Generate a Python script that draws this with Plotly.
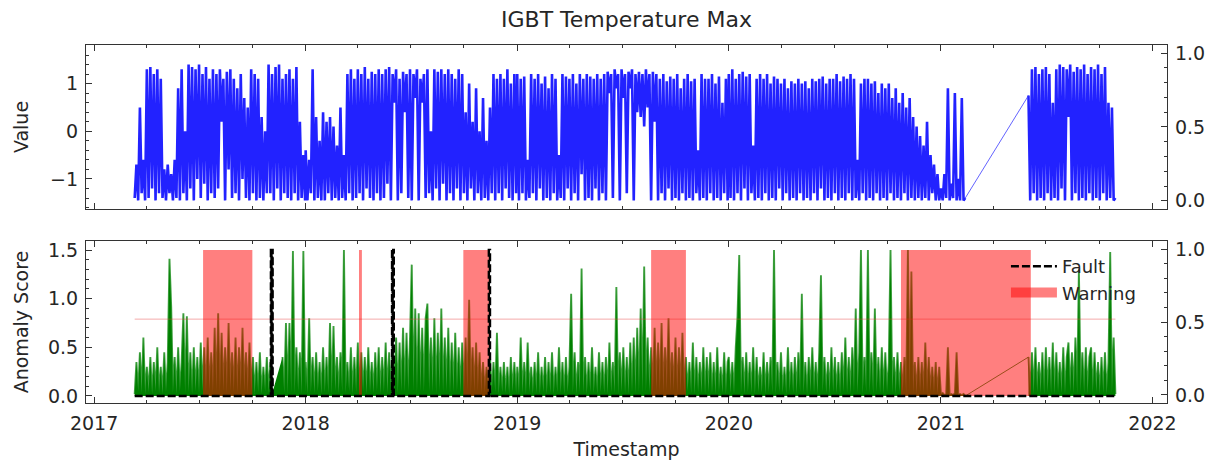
from typing import List, Tuple

import pandas as pd
from plotly.graph_objs import Figure, Scatter
from plotly.subplots import make_subplots

# readings sampled every 3 days; each stretch starts at its own date
segment_starts = ['2017-03-12', '2018-01-01', '2019-01-01', '2020-01-01', '2021-01-01', '2021-06-01']

value_2017 = [-1.4, -0.7, -1.45, 0.5, -1.3, -0.6, -1.45,
              1.3, -1.4, 1.35, -1.2, 1.2, -1.45, 1.3, -1.3, 1.1, -1.4,
              -0.8, -1.45, -0.7, -1.3, -0.9, -1.45, -0.6, -1.4, 0.9, -1.45,
              1.3, -1.3, 0.0, -1.45, 1.4, -1.2, 1.35, -1.45, 1.3, -1.0,
              1.4, -1.4, 1.2, -1.1, 1.35, -1.45, 1.1, -1.3, 1.3, -1.4,
              1.2, -1.2, 1.3, 0.2, 1.1, -1.45, 1.25, -0.8, 1.3, -1.4,
              1.1, -1.3, 0.9, -1.45, 1.2, -1.0, 0.7, -1.4, 0.5, -1.45,
              1.3, -1.3, 1.2, -1.45, 1.1, -1.4, 0.3, -1.45, 0.0, -1.3,
              1.4, -1.3, 1.2, -1.45, 1.35, -1.2, 1.4, -1.45, 1.1, -1.3,
              1.2, -1.4, 1.3, -1.45, 1.1, -1.3, 1.35, -1.45, 0.2, -1.4, -0.5, -1.45]
value_2018 = [-0.4, -1.45, -0.6, -1.3, 1.3, -1.45, 0.3, -1.4, -0.2, -1.45,
              0.4, -1.45, 0.2, -1.3, 0.3, -1.45, 0.1, -1.4, -0.3, -1.45,
              0.5, -1.4, -0.5, -1.45, 1.2, -1.3, 1.3, -1.45, 1.1, -1.4,
              1.3, -1.3, 1.2, -1.45, 1.35, -1.2, 1.1, -1.4, 1.25, -1.45,
              1.2, -1.3, 1.3, -1.45, 1.2, -1.4, 1.3, -1.1, 1.35, -1.45,
              1.2, 0.6, 1.3, -1.45, 1.1, -1.3, 1.25, 0.4, 1.2, -1.4,
              1.3, -1.45, 1.2, 0.7, 1.3, -1.45, 1.1, 0.6, 1.2, -1.4,
              1.3, -1.3, 0.0, -1.45, 1.3, -1.2, 1.25, -1.45, 1.3, -1.1,
              1.2, -1.45, 1.3, -1.3, 1.2, -1.45, 1.1, -1.2, 1.3, -1.45,
              1.2, -1.3, 0.4, -1.45, 1.0, -1.2, 0.2, -1.45, 0.9, -1.3,
              0.0, -1.45, 0.7, -1.4, -0.2, -1.45, 0.5, -1.3, 1.2, -1.45,
              1.1, -1.3, 1.2, -1.45, 1.1, -1.2, 1.3, -1.4, 1.0, -1.45, 1.2, -1.3]
value_2019 = [1.2, -1.45, 1.1, -1.3, 1.15, -1.45, -0.6, -1.4, 1.2, -1.3,
              1.1, -1.45, 1.2, -1.2, 1.0, -1.45, 1.15, -1.4, 0.9, -1.45,
              1.2, -1.3, 1.1, -1.45, -0.5, -1.4, 1.2, -1.45, 1.15, -1.2,
              1.1, -1.45, 1.2, -1.3, 1.0, -1.45, 1.2, -0.9, 1.1, -1.45,
              1.2, -1.4, 1.15, -1.45, 1.1, -1.2, 1.2, -1.45, 1.1, -1.3,
              1.2, -1.45, 1.25, 0.8, 1.2, -1.4, 1.3, 0.9, 1.2, -1.45,
              1.3, 0.7, 1.2, -1.3, 1.25, 0.9, 1.3, -1.45, 1.2, 0.4,
              1.25, 0.3, 1.2, 0.1, 1.3, 0.5, 1.2, -1.45, 1.25, 0.2,
              1.2, -1.45, 1.1, -1.3, 1.2, -1.45, 1.05, -1.2, 1.15, -1.45,
              1.1, -1.4, 1.2, -1.45, 0.9, -1.3, 1.1, -1.45, 1.2, -1.4,
              1.05, -1.45, 1.1, -1.3, -0.4, -1.45, 1.2, -1.4, 1.1, -1.45,
              1.1, -1.3, 1.2, -1.45, 1.0, -1.4, 1.15, -1.45, 0.6, -1.3, 1.1, -1.45]
value_2020 = [1.2, -1.4, 1.3, -1.45, 1.1, -1.3, 1.2, -1.45, 1.25, -1.2,
              1.15, -1.45, 1.2, -1.3, -0.3, -1.45, 1.1, -1.4, 1.2, -1.45,
              1.1, -1.3, 1.2, -1.45, 1.0, -1.4, 1.15, -1.45, 1.1, -1.2,
              1.0, -1.45, 1.1, -1.3, 0.9, -1.45, 1.05, -1.4, 1.0, -1.45,
              1.1, -1.3, 1.0, -1.45, 1.05, -1.4, 0.9, -1.45, 1.1, -1.3,
              1.05, -1.45, 1.1, -1.2, 1.15, -1.45, 1.0, -1.4, 1.1, -1.45,
              1.1, -1.3, 1.2, -1.45, 1.05, -1.4, 1.15, -1.45, 1.1, -1.3,
              1.2, -1.45, 1.1, -1.4, -0.6, -1.45, 1.0, -1.3, 1.1, -1.45,
              1.1, -1.4, 1.0, -1.45, 1.05, -1.3, 0.8, -1.45, 1.0, -1.4,
              0.9, -1.45, 1.0, -1.3, 0.7, -1.45, 0.9, -1.4, 0.6, -1.45,
              0.8, -1.3, 0.5, -1.45, 0.7, -1.4, 0.3, -1.45, 0.1, -1.4,
              -0.1, -1.45, -0.3, -1.4, 0.2, -1.45, -0.5, -1.3, -0.7, -1.45, -0.9, -1.45]
value_2021_early = [-1.2, -1.45, -0.9, -1.4, 0.9, -1.45, -1.1, -1.4, 0.8, -1.45,
                    -1.0, -1.45, 0.7, -1.45, -1.4]
value_2021_late = [0.75, -1.45, 1.3, -1.3, 1.35, -1.45, 1.2, -1.4, 1.3, -1.45,
                   1.35, -1.3, 1.2, -1.45, 0.6, -1.4, 1.3, -1.45, 1.4, -1.2,
                   1.35, -1.45, 1.3, 0.3, 1.4, -1.45, 1.25, -1.3, 1.35, -1.45,
                   1.3, -1.4, 1.4, -1.45, 1.2, -1.3, 1.35, -1.45, 1.3, -1.4,
                   1.4, -1.45, 1.2, -1.3, 1.35, -1.45, 0.6, -1.4, 0.5, -1.45, -1.4]

score_2017 = [0.02, 0.35, 0.05, 0.45, 0.03, 0.6, 0.02, 0.3, 0.04, 0.4,
              0.02, 0.35, 0.05, 0.5, 0.03, 0.3, 0.02, 0.45, 0.04, 0.35,
              1.41, 0.92, 0.03, 0.4, 0.02, 0.5, 0.05, 0.35, 0.85, 0.03,
              0.82, 0.04, 0.45, 0.02, 0.5, 0.05, 0.4, 0.03, 0.55, 0.05,
              0.5, 0.04, 0.6, 0.05, 0.45, 0.03, 0.7, 0.05, 0.85, 0.04,
              0.65, 0.05, 0.5, 0.03, 0.75, 0.05, 0.45, 0.04, 0.6, 0.03,
              0.5, 0.05, 0.7, 0.04, 0.45, 0.03, 0.55, 0.05, 0.4, 0.02,
              0.35, 0.04, 0.45, 0.02, 0.3, 0.05, 0.4, 0.03, 0.35, 0.02,
              None, None, None, None, None, 0.4, 0.03, 0.75, 0.02, 0.75,
              0.04, 1.49, 0.03, 0.5, 0.05, 0.45, 0.02, 1.49, 0.04]
score_2018 = [0.35, 0.02, 0.8, 0.04, 0.4, 0.03, 0.45, 0.05, 0.35, 0.02,
              0.5, 0.04, 0.4, 0.03, 0.75, 0.02, 0.72, 0.05, 0.4, 0.03,
              0.45, 0.04, 1.5, 0.03, 0.35, 0.05, 0.5, 0.02, 0.4, 0.04,
              0.55, 0.03, 0.45, 0.05, 0.4, 0.02, 0.5, 0.04, 0.35, 0.03,
              0.45, 0.05, 0.5, 0.02, 0.4, 0.04, 0.55, 0.03, 0.45, 0.05,
              0.5, 0.04, 0.6, 0.03, 0.55, 0.05, 0.7, 0.04, 0.65, 0.05,
              0.6, 1.35, 0.05, 0.9, 0.03, 0.85, 0.05, 0.7, 0.04, 0.8,
              0.95, 0.05, 0.6, 0.04, 0.8, 0.03, 0.65, 0.05, 0.9, 0.04,
              0.6, 0.05, 0.7, 0.03, 0.55, 0.04, 0.65, 0.05, 0.5, 0.03,
              0.55, 0.04, 0.6, 0.05, 0.99, 0.03, 0.5, 0.04, 0.55, 0.05,
              0.45, 0.03, 0.35, 0.04, 0.3, 0.02, 0.4, 0.03, 0.35, 0.04,
              0.65, 0.02, 0.3, 0.04, 0.35, 0.03, 0.3, 0.02, 0.4, 0.04, 0.35, 0.03]
score_2019 = [0.3, 0.02, 0.6, 0.03, 0.35, 0.02, 0.55, 0.04, 0.3, 0.02,
              0.35, 0.03, 0.45, 0.02, 0.3, 0.04, 0.4, 0.02, 0.35, 0.03,
              0.45, 0.02, 0.3, 0.04, 0.5, 0.03, 0.35, 0.02, 0.4, 0.04,
              0.3, 1.05, 0.03, 0.45, 0.02, 0.35, 0.04, 1.31, 0.03, 0.4,
              0.02, 0.35, 0.04, 0.5, 0.03, 0.3, 0.02, 0.45, 0.04, 0.35,
              0.03, 0.4, 0.02, 0.55, 0.04, 0.35, 0.03, 1.12, 0.02, 0.45,
              0.04, 0.5, 0.03, 0.4, 0.02, 0.55, 0.04, 0.6, 0.03, 0.7,
              0.04, 0.9, 0.03, 1.33, 0.05, 0.6, 0.04, 0.5, 0.03, 0.7,
              0.05, 0.55, 0.04, 0.75, 0.03, 0.5, 0.05, 0.8, 0.04, 0.45,
              0.05, 0.6, 0.03, 0.5, 0.04, 0.65, 0.03, 0.4, 0.05, 0.35,
              0.03, 0.55, 0.02, 0.4, 0.04, 0.35, 0.03, 0.5, 0.02, 0.4,
              0.04, 0.45, 0.03, 0.35, 0.02, 0.5, 0.04, 0.3, 0.03, 0.45, 0.02, 0.35]
score_2020 = [0.4, 0.03, 0.35, 0.02, 0.5, 0.82, 1.45, 0.03, 0.4, 0.02,
              0.45, 0.04, 0.35, 0.03, 0.5, 0.02, 0.4, 0.04, 0.3, 0.03,
              0.45, 0.02, 0.35, 0.04, 0.4, 0.03, 1.5, 0.02, 0.35, 0.04,
              0.45, 0.03, 0.3, 0.02, 0.5, 0.04, 0.35, 0.03, 0.4, 0.02,
              0.45, 0.04, 1.05, 0.03, 0.35, 0.02, 0.4, 0.04, 0.5, 0.03,
              0.35, 0.02, 0.45, 1.24, 0.04, 0.4, 0.03, 0.35, 0.02, 0.5,
              0.04, 0.4, 0.03, 0.35, 0.02, 0.45, 0.04, 0.6, 0.03, 0.4,
              0.02, 0.5, 0.04, 0.9, 0.03, 0.45, 1.5, 0.02, 0.4, 0.04,
              1.5, 0.03, 0.45, 0.02, 0.9, 0.04, 0.4, 0.03, 0.5, 0.02,
              0.45, 0.04, 0.35, 1.5, 0.03, 0.4, 0.02, 0.45, 0.04, 0.35,
              0.03, 0.4, 0.02, 1.5, 0.04, 1.28, 0.03, 0.35, 0.02, 0.4,
              0.04, 0.35, 0.03, 0.55, 0.02, 0.4, 0.04, 0.3, 0.03, 0.35, 0.02, 0.3]
score_2021_early = [0.02, 0.03, 0.01, 0.02, 0.5, 0.01, 0.02, 0.01, 0.03, 0.45,
                    0.01, 0.02, 0.01, 0.02, 0.0]
score_2021_late = [0.4, 0.03, 0.45, 0.02, 0.5, 0.04, 0.35, 0.03, 0.45, 0.02,
                   0.5, 0.04, 0.4, 0.03, 0.55, 0.02, 0.45, 0.04, 0.35, 0.03,
                   0.5, 0.02, 0.4, 0.55, 0.04, 0.45, 0.03, 0.6, 0.02, 1.3,
                   0.04, 0.45, 0.03, 0.5, 0.02, 0.4, 0.5, 0.03, 0.45, 0.04,
                   0.35, 0.02, 0.4, 0.03, 0.45, 0.02, 0.35, 1.48, 0.03, 0.6, 0.02]

# fault flag: flickers on and off during the first two events
fault_dates = ['2017-03-12',
               '2017-11-02', '2017-11-02', '2017-11-03', '2017-11-03', '2017-11-04', '2017-11-04',
               '2017-11-05', '2017-11-05',
               '2018-05-30', '2018-05-30', '2018-05-31', '2018-05-31', '2018-06-01', '2018-06-01',
               '2018-06-02', '2018-06-02',
               '2018-11-13', '2018-11-13', '2018-11-15', '2018-11-15', '2021-10-31']
fault_values = [0,
                0, 1.5, 1.5, 0, 0, 1.5, 1.5, 0,
                0, 1.5, 1.5, 0, 0, 1.5, 1.5, 0,
                0, 1.5, 1.5, 0, 0]

warning_starts = ['2017-07-08', '2018-04-03', '2018-09-30', '2019-08-20', '2020-10-24']
warning_ends = ['2017-10-01', '2018-04-08', '2018-11-14', '2019-10-19', '2021-06-05']
warning_top = 1.5
threshold = 0.79

FONT = 'DejaVu Sans'
INK = '#262626'
WARN_RED = 'rgba(255,0,0,0.5)'


def _stretches(chunks: List[list]) -> Tuple[pd.DataFrame, pd.DataFrame]:
    # everything before the 2021 outage, and everything after it
    frames = [pd.DataFrame({'Timestamp': pd.date_range(s, periods=len(c), freq='3D'), 'y': c})
              for s, c in zip(segment_starts, chunks)]
    return pd.concat(frames[:-1], ignore_index=True), frames[-1]


def _span_outline(starts: List[str], ends: List[str], top: float) -> Tuple[list, list]:
    xs, ys = [], []
    for s, e in zip(starts, ends):
        xs += [s, s, e, e, s, None]
        ys += [0, top, top, 0, 0, None]
    return xs, ys


def _add_series(fig: Figure, chunks: List[list], row: int, style: dict, bridge_color: str):
    before, after = _stretches(chunks)
    for part in (before, after):
        fig.add_trace(Scatter(x=part['Timestamp'], y=part['y'], mode='lines', showlegend=False, **style),
                      row=row, col=1)
    # the straight join across the outage
    fig.add_trace(Scatter(x=[before['Timestamp'].iloc[-1], after['Timestamp'].iloc[0]],
                          y=[before['y'].iloc[-1], after['y'].iloc[0]], mode='lines', showlegend=False,
                          line=dict(color=bridge_color, width=1)), row=row, col=1)
    return before['Timestamp'].iloc[0], after['Timestamp'].iloc[-1]


def _style_axes(fig: Figure):
    tick = dict(showline=True, linecolor='#333', linewidth=1.2, ticks='inside', ticklen=6,
                tickcolor='#333', showgrid=False, zeroline=False, automargin=False,
                ticklabelstandoff=3, tickfont=dict(family=FONT, size=19, color=INK))
    minor = dict(ticks='inside', ticklen=3, tickcolor='#333')
    label_font = dict(family=FONT, size=19, color=INK)
    fig.update_xaxes(**tick, mirror='ticks', range=['2016-12-18', '2022-01-26'], domain=[0, 1],
                     tick0='2017-01-01', dtick='M12', tickformat='%Y',
                     minor=dict(tick0='2017-01-01', dtick='M3', **minor))
    fig.update_xaxes(title=dict(text='Timestamp', font=label_font, standoff=14), row=2, col=1)

    fig.update_yaxes(**tick, mirror=True, range=[-1.63, 1.81], tick0=0, dtick=1,
                     minor=dict(dtick=0.2, **minor),
                     title=dict(text='Value', font=label_font, standoff=16),
                     row=1, col=1, secondary_y=False)
    fig.update_yaxes(**tick, mirror=True, range=[-0.072, 1.593], tick0=0, dtick=0.5, tickformat='.1f',
                     minor=dict(dtick=0.1, **minor),
                     title=dict(text='Anomaly Score', font=label_font, standoff=14),
                     row=2, col=1, secondary_y=False)
    for row in (1, 2):
        fig.update_yaxes(**tick, range=[-0.055, 1.055], tick0=0, dtick=0.5, tickformat='.1f',
                         minor=dict(dtick=0.1, **minor), row=row, col=1, secondary_y=True)

    fig.update_layout(yaxis=dict(domain=[0.542, 1.0]), yaxis3=dict(domain=[0.0, 0.4525]))


def plot_anomalies() -> Figure:
    value_chunks = [value_2017, value_2018, value_2019, value_2020, value_2021_early, value_2021_late]
    score_chunks = [score_2017, score_2018, score_2019, score_2020, score_2021_early, score_2021_late]

    fig = make_subplots(rows=2, cols=1, shared_xaxes=True, vertical_spacing=0.09,
                        specs=[[{'secondary_y': True}], [{'secondary_y': True}]])

    _add_series(fig, value_chunks, 1, dict(line=dict(color='rgba(10,10,255,0.9)', width=2.6)),
                'rgba(60,60,255,0.8)')
    t0, t1 = _add_series(fig, score_chunks, 2,
                         dict(fill='tozeroy', fillcolor='rgb(0,128,0)',
                              line=dict(color='rgba(0,128,0,0.75)', width=1.9)),
                         'rgba(0,128,0,0.8)')

    fig.add_trace(Scatter(x=[t0, t1], y=[threshold, threshold], mode='lines', showlegend=False,
                          line=dict(color='rgba(230,60,60,0.55)', width=0.8)), row=2, col=1)

    wx, wy = _span_outline(warning_starts, warning_ends, warning_top)
    fig.add_trace(Scatter(x=wx, y=wy, mode='lines', fill='toself', showlegend=False,
                          fillcolor=WARN_RED, line=dict(width=0, color=WARN_RED)),
                  row=2, col=1)

    fig.add_trace(Scatter(x=fault_dates, y=fault_values, mode='lines', name='Fault', legendrank=1,
                          line=dict(color='black', width=2.4, dash='8px,3px')), row=2, col=1)

    # legend patch for the warning spans
    fig.add_trace(Scatter(x=[None], y=[None], mode='lines', name='Warning', legendrank=2,
                          line=dict(color=WARN_RED, width=16)), row=2, col=1)

    # keep the right-hand axes alive
    for row in (1, 2):
        fig.add_trace(Scatter(x=[t0], y=[0], mode='markers', marker=dict(opacity=0), showlegend=False,
                              hoverinfo='skip'), row=row, col=1, secondary_y=True)

    _style_axes(fig)
    # the page adds an 8px body margin, so the figure is a little smaller than the window
    fig.update_layout(
        width=1200, height=452, margin=dict(l=78, r=41, t=37, b=57),
        paper_bgcolor='white', plot_bgcolor='white',
        font=dict(family=FONT, size=19, color=INK),
        title=dict(text='IGBT Temperature Max', x=0.5, xref='paper', y=0.975, yanchor='middle',
                   font=dict(family=FONT, size=22, color=INK)),
        legend=dict(x=0.851, y=0.433, xanchor='left', yanchor='top', bgcolor='rgba(0,0,0,0)',
                    font=dict(family=FONT, size=18, color=INK), itemwidth=46, tracegroupgap=2),
    )
    return fig


fig = plot_anomalies()
fig.write_html("out.html")
